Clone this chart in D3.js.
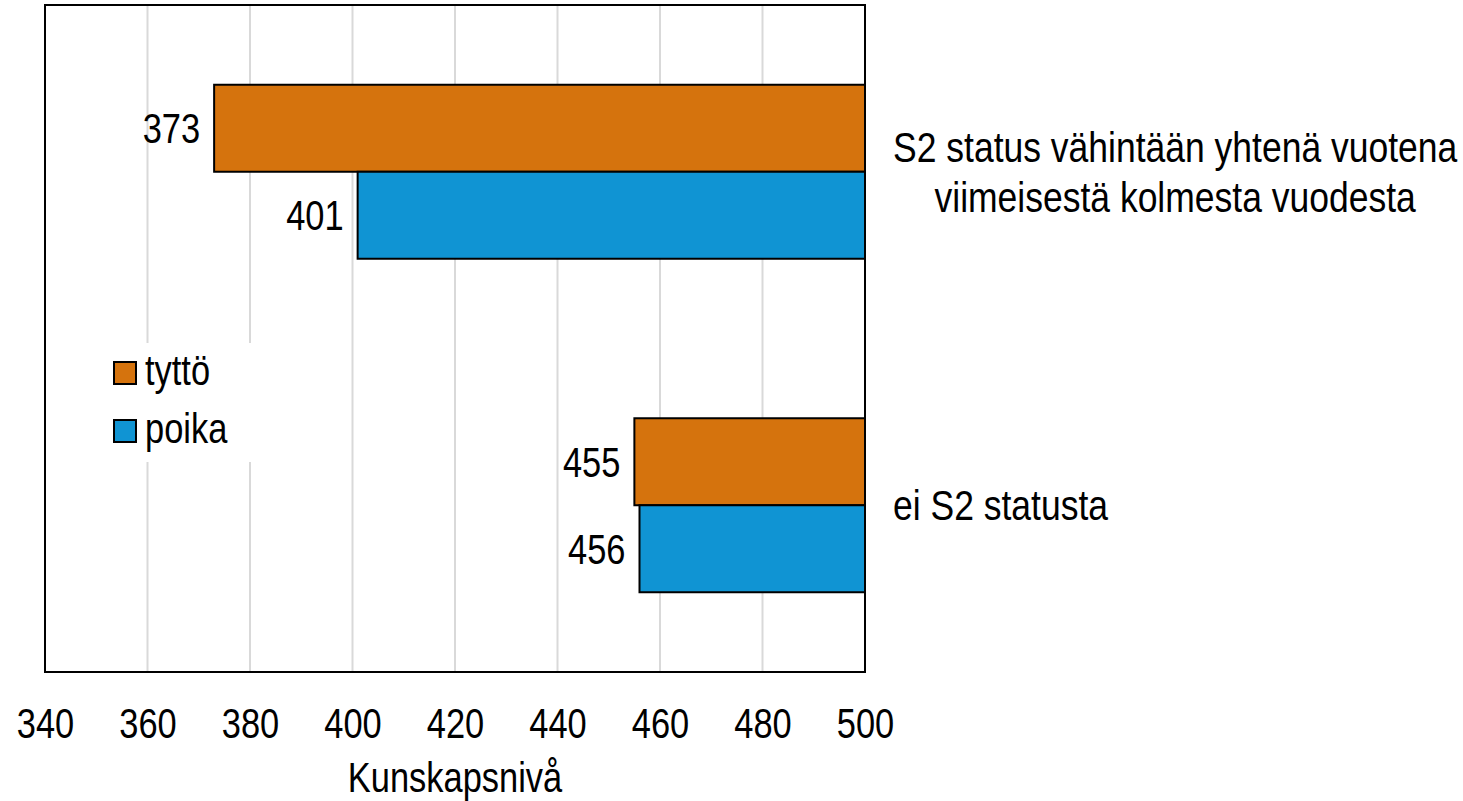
<!DOCTYPE html>
<html><head><meta charset="utf-8">
<script src="https://cdn.jsdelivr.net/npm/d3@7"></script>
<style>
html,body{margin:0;padding:0;background:#fff;}
text{font-family:"Liberation Sans",Arial,sans-serif;fill:#000;}
</style></head>
<body>
<svg id="chart" width="1463" height="801"></svg>
<script>
const categories = ["S2 status vähintään yhtenä vuotena\nviimeisestä kolmesta vuodesta", "ei S2 statusta"];
const seriesNames = ["tyttö", "poika"];
const tyttoValues = [373, 455];
const poikaValues = [401, 456];
const tickValues = [340, 360, 380, 400, 420, 440, 460, 480, 500];
const axisTitle = "Kunskapsnivå";
const colors = {"tyttö": "#D5730D", "poika": "#1094D3"};

(function(){
const svg = d3.select("#chart");
const pL = 45, pR = 865, pT = 5, pB = 672;
const SX = 0.82, SXC = 0.845;
const x = d3.scaleLinear().domain([340, 500]).range([pL, pR]);
const y0 = d3.scaleBand().domain(categories).range([pT, pB]).padding(0);
const y1 = d3.scaleBand().domain(seriesNames).range([0, y0.bandwidth()]).paddingInner(0).paddingOuter(0.9167);
const seriesData = {"tyttö": tyttoValues, "poika": poikaValues};
const FS = 42;
function nx(sel, px, s) { s = s || SX; sel.attr("transform", `scale(${s},1)`).attr("x", px / s); return sel; }

svg.append("g").selectAll("line").data(tickValues.slice(1, -1)).join("line")
  .attr("x1", d => x(d)).attr("x2", d => x(d))
  .attr("y1", pT).attr("y2", pB)
  .attr("stroke", "#D9D9D9").attr("stroke-width", 2);

const bars = [];
categories.forEach((c, i) => seriesNames.forEach(s => bars.push({c, s, v: seriesData[s][i]})));
svg.append("g").selectAll("rect").data(bars).join("rect")
  .attr("x", d => x(d.v)).attr("width", d => x(500) - x(d.v))
  .attr("y", d => y0(d.c) + y1(d.s)).attr("height", y1.bandwidth())
  .attr("fill", d => colors[d.s]).attr("stroke", "#000").attr("stroke-width", 2);

svg.append("g").selectAll("text").data(bars).join("text")
  .attr("transform", `scale(${SX},1)`)
  .attr("x", d => (x(d.v) - 14) / SX)
  .attr("y", d => y0(d.c) + y1(d.s) + y1.bandwidth() / 2 + 15)
  .attr("text-anchor", "end").attr("font-size", FS)
  .text(d => d.v);

const lg = svg.append("g");
lg.append("rect").attr("x", 100).attr("y", 343).attr("width", 160).attr("height", 119).attr("fill", "#fff");
seriesNames.forEach((s, i) => {
  const yy = 362 + i * 58;
  lg.append("rect").attr("x", 114).attr("y", yy).attr("width", 22).attr("height", 22)
    .attr("fill", colors[s]).attr("stroke", "#000").attr("stroke-width", 2);
  nx(lg.append("text").attr("y", yy + 23).attr("font-size", FS).text(s), 145);
});

svg.append("rect").attr("x", pL).attr("y", pT).attr("width", pR - pL).attr("height", pB - pT)
  .attr("fill", "none").attr("stroke", "#000").attr("stroke-width", 2);

const xAxis = d3.axisBottom(x).tickValues(tickValues).tickSize(0).tickPadding(0).tickFormat(d3.format("d"));
const ax = svg.append("g").attr("transform", `translate(0,${pB})`).call(xAxis);
ax.select(".domain").remove();
ax.attr("font-family", null).attr("font-size", null);
ax.selectAll("text").attr("font-size", FS).attr("dy", null).attr("y", 66).attr("transform", `scale(${SX},1)`);

nx(svg.append("text").attr("y", 792).attr("text-anchor", "middle")
  .attr("font-size", FS).text(axisTitle), (pL + pR) / 2);

categories.forEach(c => {
  const lines = c.split("\n");
  const g = svg.append("g");
  const cy = y0(c) + y0.bandwidth() / 2;
  const lh = 50;
  const ts = lines.map((l, j) => g.append("text").attr("font-size", FS).attr("text-anchor", "middle")
    .attr("y", cy + 15 - (lines.length - 1) * lh / 2 + j * lh).text(l));
  const w = d3.max(ts, t => t.node().getComputedTextLength()) * SXC;
  ts.forEach(t => nx(t, 893 + w / 2, SXC));
});
})();
</script>
</body></html>
